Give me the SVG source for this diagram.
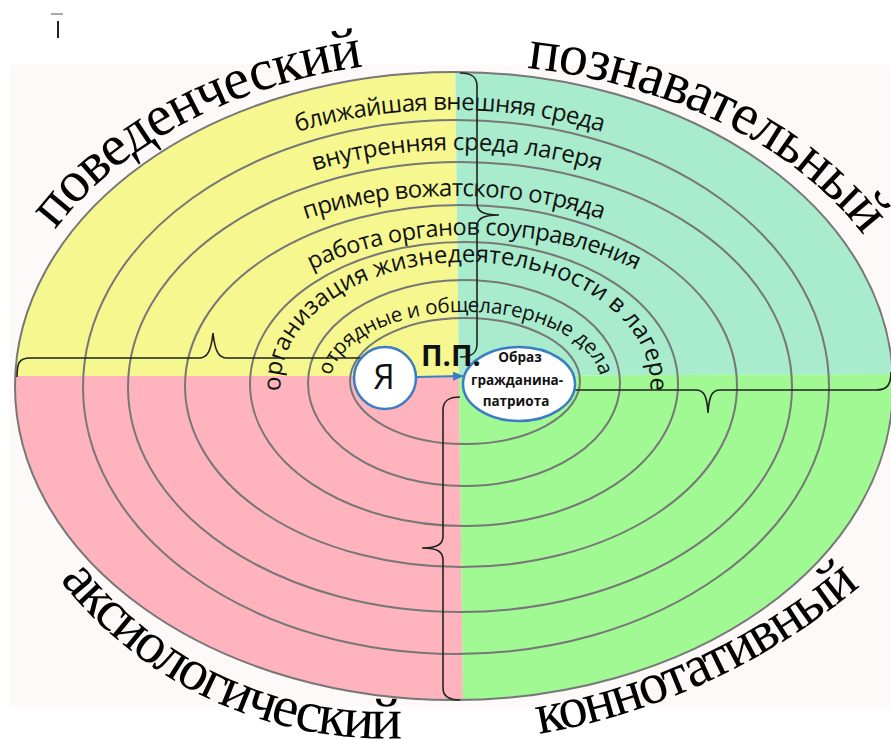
<svg xmlns="http://www.w3.org/2000/svg" width="891" height="740" viewBox="0 0 891 740">
<style>
.ring{fill:none;stroke:#777;stroke-width:2}
.lbl{font-family:"Open Sans","DejaVu Sans",sans-serif;fill:#111}
.big{font-family:"Liberation Serif","Times New Roman",serif;font-size:58px;fill:#000}
.brace{fill:none;stroke:#222;stroke-width:1.6}
.node{fill:#fff;stroke:#3b7dc4;stroke-width:2.5}
.nt{font-family:"Open Sans","DejaVu Sans",sans-serif;font-weight:bold;fill:#111}
</style>
<defs>
<clipPath id="oval"><ellipse cx="454" cy="386" rx="439" ry="314"/></clipPath>
<marker id="ah" markerWidth="11" markerHeight="9" refX="10" refY="4.5" orient="auto" markerUnits="userSpaceOnUse"><path d="M0,0 L11,4.5 L0,9 z" fill="#3b7dc4"/></marker>
<path id="p1" d="M152.0,208.5 A389,276 0 0 1 748.0,208.5"/>
<path id="p2" d="M191.2,234.3 A347,236 0 0 1 722.8,234.3"/>
<path id="p3" d="M186.4,291 A309,190 0 0 1 721.6,291"/>
<path id="p4" d="M224.8,359.8 A253,151 0 0 1 723.2,359.8"/>
<path id="p5" d="M286.8,415.6 A185,122 0 1 1 644.2,415.6"/>
<path id="p6" d="M338.4,408.6 A135.3,72 0 1 1 592.6,408.6"/>
<path id="pA" d="M55,230 A454,326 0 0 1 493.6,61.2"/>
<path id="pB" d="M527,68 A463,322 0 0 1 910,330"/>
<path id="pC" d="M60,580 A413.2,413.2 0 0 0 526.6,713.5"/>
<path id="pD" d="M539,734 A690,690 0 0 0 949.6,497.4"/>
</defs>

<rect x="51" y="13" width="12" height="2" fill="#aaa"/>
<rect x="57" y="21" width="2" height="17" fill="#222"/>

<rect x="10" y="65" width="881" height="642" fill="#fdf9f9"/>

<g id="quadrants" clip-path="url(#oval)">
<polygon points="0,0 454.5,0 458.9,376 0,376" fill="#f6f78e"/>
<polygon points="454.5,0 900,0 900,374 458.9,376" fill="#a8ebcd"/>
<polygon points="0,376 458.9,376 463.5,740 0,740" fill="#ffb4bd"/>
<polygon points="458.9,376 900,374 900,740 463.5,740" fill="#a0f993"/>
</g>

<g id="rings">
<ellipse class="ring" cx="454" cy="386" rx="439" ry="314"/>
<ellipse class="ring" cx="456" cy="387" rx="373" ry="267"/>
<ellipse class="ring" cx="460" cy="387" rx="332" ry="225"/>
<ellipse class="ring" cx="461" cy="386" rx="276" ry="181"/>
<ellipse class="ring" cx="464" cy="384" rx="214" ry="142"/>
<ellipse class="ring" cx="464" cy="383" rx="156" ry="103"/>
<ellipse class="ring" cx="465" cy="381" rx="115" ry="63"/>
</g>

<g id="ring-labels">
<text class="lbl" font-size="24" text-anchor="middle"><textPath href="#p1" startOffset="50%" textLength="309" lengthAdjust="spacing">ближайшая внешняя среда</textPath></text>
<text class="lbl" font-size="24" text-anchor="middle"><textPath href="#p2" startOffset="50%" textLength="289" lengthAdjust="spacing">внутренняя среда лагеря</textPath></text>
<text class="lbl" font-size="24" text-anchor="middle"><textPath href="#p3" startOffset="50%" textLength="301" lengthAdjust="spacing">пример вожатского отряда</textPath></text>
<text class="lbl" font-size="23.5" text-anchor="middle"><textPath href="#p4" startOffset="50%" textLength="335" lengthAdjust="spacing">работа органов соуправления</textPath></text>
<text class="lbl" font-size="24" text-anchor="middle"><textPath href="#p5" startOffset="50%" textLength="501" lengthAdjust="spacing">организация жизнедеятельности в лагере</textPath></text>
<text class="lbl" font-size="20.5" text-anchor="middle"><textPath href="#p6" startOffset="50%" textLength="317" lengthAdjust="spacing">отрядные и общелагерные дела</textPath></text>
</g>

<g id="quadrant-labels">
<text class="big"><textPath href="#pA" textLength="358" lengthAdjust="spacing">поведенческий</textPath></text>
<text class="big"><textPath href="#pB" textLength="386" lengthAdjust="spacing">познавательный</textPath></text>
<text class="big"><textPath href="#pC" textLength="391" lengthAdjust="spacing">аксиологический</textPath></text>
<text class="big"><textPath href="#pD" textLength="358" lengthAdjust="spacing">коннотативный</textPath></text>
</g>

<g id="connectors">
<path class="brace" d="M17,377 C17,363 19,358 30,358 L199,358 C207,358 211,352 213,333 C215,352 219,358 227,358 L396,358 C407,358 409,363 409,377"/>
<path class="brace" d="M460,73 C472,73 477,77 477,86 L477,203 C477,211 482,215 499,215 C482,215 477,219 477,227 L477,344 C477,353 472,357 460,357"/>
<path class="brace" d="M460,397 C448,397 443,401 443,410 L443,536 C443,544 438,548 422,548 C438,548 443,552 443,560 L443,688 C443,696 448,700 460,700"/>
<path class="brace" d="M525,372 C525,385 528,390 540,390 L696,390 C704,390 707,396 708,413 C709,396 712,390 720,390 L876,390 C887,390 891,385 891,372"/>
<line x1="416" y1="377" x2="463" y2="376" stroke="#3b7dc4" stroke-width="2.2" marker-end="url(#ah)"/>
</g>

<g id="node-ya">
<circle class="node" cx="385" cy="378" r="31"/>
<text x="384" y="389" font-family="Open Sans, DejaVu Sans, sans-serif" font-size="34" text-anchor="middle" fill="#111">Я</text>
</g>

<g id="node-obraz">
<ellipse class="node" cx="519" cy="384" rx="56" ry="37"/>
<text class="nt" font-size="13.5" text-anchor="middle"><tspan x="520" y="362">Образ</tspan><tspan x="517" y="385">гражданина-</tspan><tspan x="516" y="406">патриота</tspan></text>
</g>

<g id="node-pp">
<text class="nt" x="421" y="366" font-size="29">П.П.</text>
</g>
</svg>
